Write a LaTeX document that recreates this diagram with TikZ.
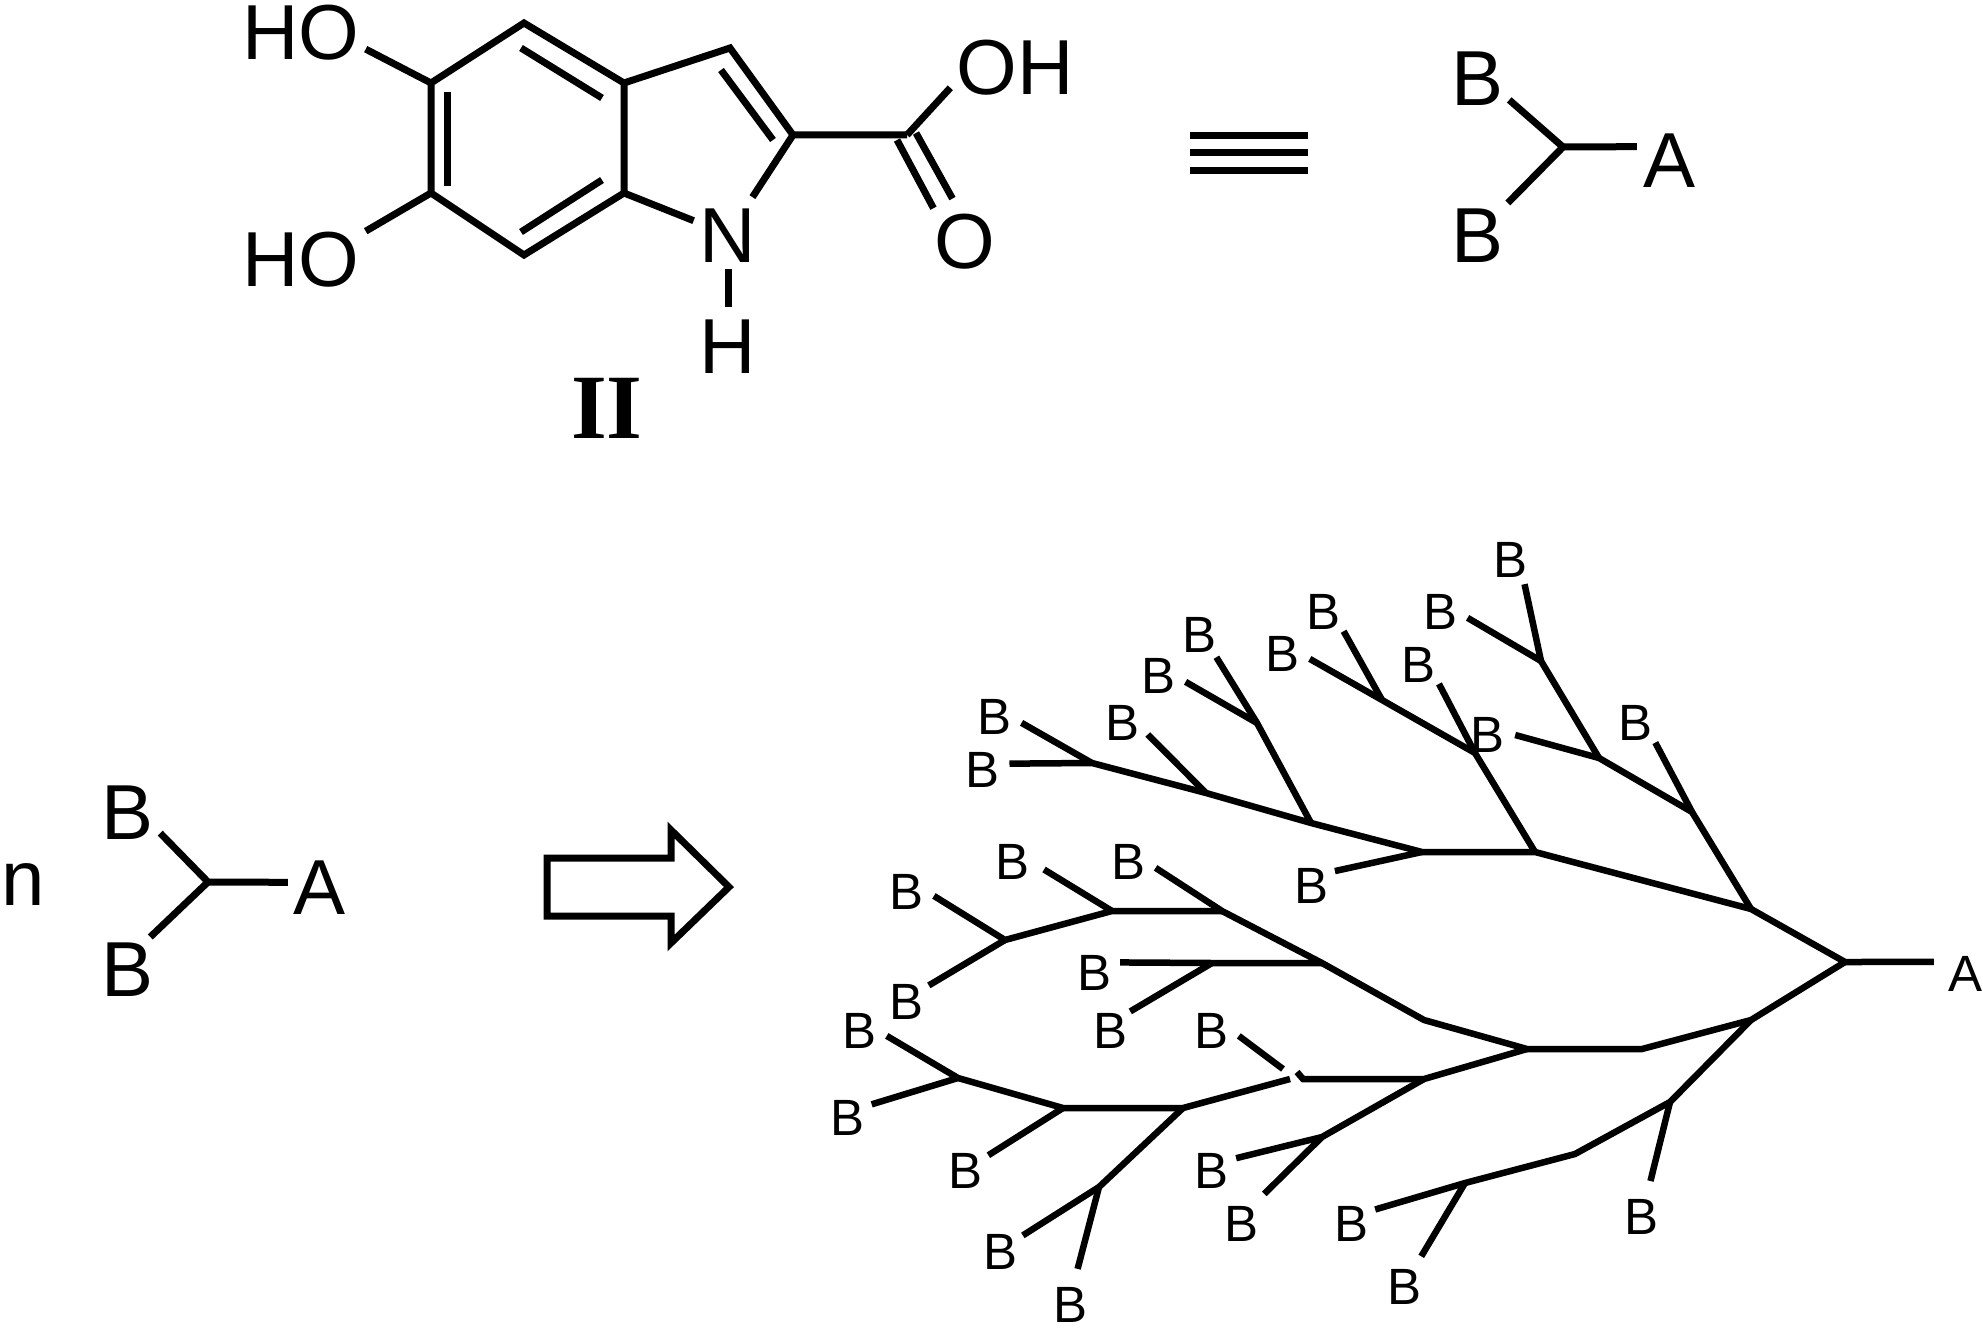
\documentclass[tikz,border=0pt]{standalone}
\usepackage{fontspec}
\setmainfont{Liberation Sans}
\newfontfamily\labelfont{Liberation Serif}
\tikzset{
 atom/.style={
 rectangle,
 inner sep=6pt,
 font=\fontsize{78}{78}\selectfont},
 leaf/.style={
 circle,
 inner sep=0pt,
 minimum size=56pt,
 font=\fontsize{51}{51}\selectfont},
 tight/.style={
 rectangle,
 minimum size=0pt},
 bond/.style={
 line width=7pt},
 branch/.style={
 line width=6.5pt}
}

\begin{document}
\begin{tikzpicture}[x=1pt,y=-1pt]
 \useasboundingbox (0,0) rectangle (1983,1329);

 \node[atom] (hotop) at (301,33) {HO};
 \node[atom] (hobot) at (301,260) {HO};
 \node[atom] (nitro) at (728,236) {N};
 \node[atom] (hydro) at (728,347) {H};
 \node[atom] (acid) at (1015,68) {OH};
 \node[atom] (oxo) at (965,242) {O};
 \node[font=\fontsize{92}{92}\selectfont\labelfont\bfseries] (name) at (607,408) {II};

 \coordinate (ca) at (524,23);
 \coordinate (cb) at (624,83);
 \coordinate (cc) at (624,193);
 \coordinate (cd) at (524,255);
 \coordinate (ce) at (431,193);
 \coordinate (cf) at (431,83);
 \coordinate (cg) at (730,48);
 \coordinate (ch) at (793,135);
 \coordinate (ci) at (907,135);
 \coordinate (ci1) at (897,140);
 \coordinate (ci2) at (916,133);
 \coordinate (ia) at (521,48);
 \coordinate (ib) at (602,98);
 \coordinate (ic) at (447,92);
 \coordinate (id) at (447,186);
 \coordinate (ie) at (602,180);
 \coordinate (if) at (521,232);
 \coordinate (ig) at (721,70);
 \coordinate (ih) at (773,140);

 \draw[bond] (ca) -- (cb) -- (cc) -- (cd) -- (ce) -- (cf) -- cycle;
 \draw[bond] (cb) -- (cg) -- (ch) -- (ci);
 \draw[bond] (ia) -- (ib);
 \draw[bond] (ic) -- (id);
 \draw[bond] (ie) -- (if);
 \draw[bond] (ig) -- (ih);
 \draw[bond] (cf) -- (hotop.-14);
 \draw[bond] (ce) -- (hobot.24);
 \draw[bond] (cc) -- (nitro.156);
 \draw[bond,shorten >=7pt] (ch) -- (nitro.58);
 \draw[bond,shorten >=7pt] (nitro) -- (hydro);
 \draw[bond] (ci) -- (acid.197);
 \draw[bond] (ci1) -- (oxo.133);
 \draw[bond,shorten >=11pt] (ci2) -- (oxo.102);

 \coordinate (baru) at (1190,136);
 \coordinate (baruu) at (1308,136);
 \coordinate (barm) at (1190,153);
 \coordinate (barmm) at (1308,153);
 \coordinate (bard) at (1190,171);
 \coordinate (bardd) at (1308,171);
 \draw[line width=7pt] (baru) -- (baruu);
 \draw[line width=7pt] (barm) -- (barmm);
 \draw[line width=7pt] (bard) -- (bardd);

 \node[atom] (unitb) at (1477,79) {B};
 \node[atom] (unitc) at (1477,236) {B};
 \node[atom] (unita) at (1669,161) {A};
 \coordinate (unit) at (1563,147);
 \draw[bond] (unit) -- (unitb.-33);
 \draw[bond] (unit) -- (unitc.47);
 \draw[bond] (unit) -- (unita.156);

 \node[atom,anchor=base] (count) at (23,905) {n};
 \node[atom] (monob) at (128,813) {B};
 \node[atom] (monoc) at (128,970) {B};
 \node[atom] (monoa) at (320,888) {A};
 \coordinate (mono) at (208,882);
 \draw[bond] (mono) -- (monob.-32);
 \draw[bond] (mono) -- (monoc.56);
 \draw[bond] (mono) -- (monoa.170);

 \coordinate (pa) at (547,858);
 \coordinate (pb) at (671,858);
 \coordinate (pc) at (671,830);
 \coordinate (pd) at (729,887);
 \coordinate (pe) at (671,943);
 \coordinate (pf) at (671,916);
 \coordinate (pg) at (547,916);
 \draw[line width=7pt] (pa) -- (pb) -- (pc) -- (pd) -- (pe) -- (pf) -- (pg) -- cycle;

 \coordinate (ja) at (1845,962);
 \coordinate (ju) at (1751,909);
 \coordinate (ju1) at (1535,852);
 \coordinate (ju2) at (1422,852);
 \coordinate (ju3) at (1311,823);
 \coordinate (ju4) at (1206,793);
 \coordinate (ju5) at (1092,763);
 \coordinate (ju6) at (1257,723);
 \coordinate (jv) at (1475,753);
 \coordinate (jv1) at (1382,700);
 \coordinate (jw) at (1692,812);
 \coordinate (jw1) at (1599,758);
 \coordinate (jw2) at (1541,661);
 \coordinate (jl) at (1751,1020);
 \coordinate (jl1) at (1642,1049);
 \coordinate (jl2) at (1527,1049);
 \coordinate (jl3) at (1424,1020);
 \coordinate (jl4) at (1322,963);
 \coordinate (jl5) at (1222,911);
 \coordinate (jl6) at (1112,911);
 \coordinate (jl7) at (1005,940);
 \coordinate (jl8) at (1212,963);
 \coordinate (jm) at (1424,1079);
 \coordinate (jm1) at (1303,1079);
 \coordinate (jm2) at (1297,1072);
 \coordinate (jm3) at (1290,1079);
 \coordinate (jm4) at (1183,1108);
 \coordinate (jm5) at (1063,1108);
 \coordinate (jm6) at (958,1078);
 \coordinate (jm7) at (1099,1187);
 \coordinate (jm8) at (1283,1069);
 \coordinate (jn) at (1322,1137);
 \coordinate (jp) at (1670,1102);
 \coordinate (jp1) at (1575,1154);
 \coordinate (jp2) at (1465,1183);

 \node[leaf,tight] (end) at (1965,974) {A};
 \node[leaf] (b1) at (994,717) {B};
 \node[leaf] (b2) at (982,770) {B};
 \node[leaf] (b3) at (1122,723) {B};
 \node[leaf] (b4) at (1158,676) {B};
 \node[leaf] (b5) at (1199,635) {B};
 \node[leaf] (b6) at (1282,654) {B};
 \node[leaf] (b7) at (1323,612) {B};
 \node[leaf] (b8) at (1418,665) {B};
 \node[leaf] (b9) at (1487,735) {B};
 \node[leaf] (b10) at (1440,612) {B};
 \node[leaf] (b11) at (1510,560) {B};
 \node[leaf] (b12) at (1635,723) {B};
 \node[leaf] (b13) at (1311,886) {B};
 \node[leaf] (b14) at (1128,862) {B};
 \node[leaf] (b15) at (1012,862) {B};
 \node[leaf] (b16) at (906,892) {B};
 \node[leaf] (b17) at (906,1002) {B};
 \node[leaf] (b18) at (1094,973) {B};
 \node[leaf] (b19) at (1110,1031) {B};
 \node[leaf] (b20) at (1211,1031) {B};
 \node[leaf] (b21) at (859,1031) {B};
 \node[leaf] (b22) at (847,1118) {B};
 \node[leaf] (b23) at (965,1171) {B};
 \node[leaf] (b24) at (1000,1252) {B};
 \node[leaf,tight] (b25) at (1070,1305) {B};
 \node[leaf] (b26) at (1211,1171) {B};
 \node[leaf] (b27) at (1241,1224) {B};
 \node[leaf] (b28) at (1351,1224) {B};
 \node[leaf] (b29) at (1404,1287) {B};
 \node[leaf] (b30) at (1641,1217) {B};

 \draw[branch,shorten >=14pt] (ja) -- (end.145);
 \draw[branch] (ja) -- (ju) -- (ju1) -- (ju2) -- (ju3) -- (ju4) -- (ju5) -- (b2.13);
 \draw[branch] (ju5) -- (b1.-12);
 \draw[branch] (ju4) -- (b3.-24);
 \draw[branch] (ju3) -- (ju6) -- (b5.-52);
 \draw[branch] (ju6) -- (b4.-12);
 \draw[branch] (ju2) -- (b13.32);
 \draw[branch] (ju1) -- (jv) -- (jv1) -- (b6.-10);
 \draw[branch] (jv1) -- (b7.-43);
 \draw[branch] (jv) -- (b8.-42);
 \draw[branch] (ju) -- (jw) -- (jw1) -- (b9.0);
 \draw[branch] (jw) -- (b12.-44);
 \draw[branch] (jw1) -- (jw2) -- (b11.-59);
 \draw[branch] (jw2) -- (b10.-12);

 \draw[branch] (ja) -- (jl) -- (jl1) -- (jl2) -- (jl3) -- (jl4) -- (jl5) -- (b14.-12);
 \draw[branch] (jl5) -- (jl6) -- (jl7) -- (b16.-8);
 \draw[branch,shorten >=5pt] (jl6) -- (b15.-10);
 \draw[branch] (jl7) -- (b17.36);
 \draw[branch] (jl4) -- (jl8) -- (b18.22);
 \draw[branch] (jl8) -- (b19.44);
 \draw[branch] (jl2) -- (jm) -- (jm1) -- (jm2);
 \draw[branch] (jm3) -- (jm4) -- (jm5) -- (jm6) -- (b21.-10);
 \draw[branch] (b20.-10) -- (jm8);
 \draw[branch] (jm6) -- (b22.29);
 \draw[branch] (jm5) -- (b23.34);
 \draw[branch] (jm4) -- (jm7) -- (b24.36);
 \draw[branch,shorten >=19pt] (jm7) -- (b25.81);
 \draw[branch] (jm) -- (jn) -- (b26.27);
 \draw[branch,shorten >=10pt] (jn) -- (b27.55);
 \draw[branch] (jl) -- (jp) -- (jp1) -- (jp2) -- (b28.31);
 \draw[branch,shorten >=9pt] (jp) -- (b30.75);
 \draw[branch,shorten >=7pt] (jp2) -- (b29.61);
\end{tikzpicture}
\end{document}
